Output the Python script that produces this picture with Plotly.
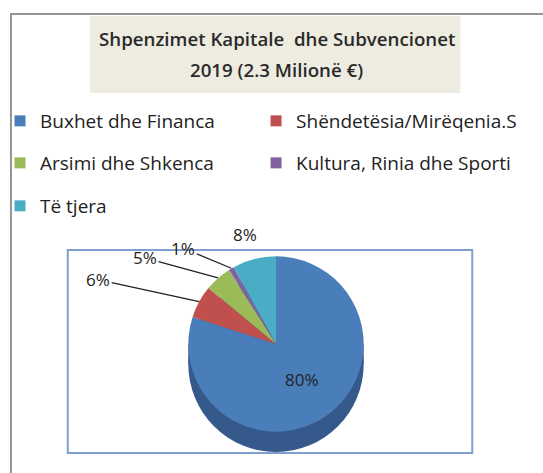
import math
import plotly.graph_objects as go

labels = ["Buxhet dhe Financa", "Shëndetësia/Mirëqenia.S", "Arsimi dhe Shkenca",
          "Kultura, Rinia dhe Sporti", "Të tjera"]
values = [80, 6, 5, 1, 8]
colors = ["#4A7EBB", "#C0504D", "#9BBB59", "#8064A2", "#4BACC6"]
title_lines = ["Shpenzimet Kapitale  dhe Subvencionet", "2019 (2.3 Milionë €)"]

W, H = 543, 473

def px_x(x):
    return x / W

def px_y(y):
    return 1 - y / H

# pie geometry (pixels)
cx, cy, d, depth = 275, 344, 176, 20
r = d / 2

fig = go.Figure()
fig.add_trace(go.Pie(
    labels=labels, values=values, sort=False, direction="clockwise", rotation=0,
    marker=dict(colors=colors, line=dict(width=0)),
    texttemplate=["%{percent:.0%}", "", "", "", ""],
    textposition="inside",
    insidetextfont=dict(color="#222", size=17, family="Open Sans"),
    domain=dict(x=[px_x(cx - r), px_x(cx + r)], y=[px_y(cy + r), px_y(cy - r)]),
    showlegend=False, hoverinfo="label+percent",
))

# legend proxies (one legend box per entry, laid out like the original)
legend_pos = [(38, 121), (295, 121), (38, 163), (295, 163), (38, 206)]
layout_legends = {}
for i, (lab, col) in enumerate(zip(labels, colors)):
    key = "legend" if i == 0 else f"legend{i + 1}"
    fig.add_trace(go.Scatter(
        x=[None], y=[None], mode="markers", name=lab,
        marker=dict(symbol="square", size=11, color=col),
        legend=key, showlegend=True, hoverinfo="skip",
    ))
    lx, ly = legend_pos[i]
    layout_legends[key] = dict(
        x=px_x(lx - 40), y=px_y(ly), xanchor="left", yanchor="middle",
        bgcolor="rgba(0,0,0,0)", borderwidth=0,
        font=dict(family="Open Sans", size=19, color="#222"),
    )

# percentage labels for small slices, with leader lines to slice edges
label_offsets = {1: (-101, -22), 2: (-73, -20), 3: (-48, -20)}
total = sum(values)
cum = 0
annotations = []
for i, v in enumerate(values):
    start = cum
    cum += v
    if i == 0:
        continue
    mid = math.radians((start + v / 2) / total * 360)
    ex = cx + r * math.sin(mid)
    ey = cy - r * math.cos(mid)
    txt = f"{round(v / total * 100)}%"
    if i in label_offsets:
        ax, ay = label_offsets[i]
        annotations.append(dict(
            xref="paper", yref="paper", x=px_x(ex), y=px_y(ey), text=txt,
            showarrow=True, ax=ax, ay=ay, arrowhead=0, arrowwidth=1.3, arrowcolor="#222",
            font=dict(family="Open Sans", size=17, color="#222"), standoff=0,
        ))
    else:
        annotations.append(dict(
            xref="paper", yref="paper", x=px_x(ex), y=px_y(ey), text=txt,
            showarrow=False, xshift=-9, yshift=24,
            font=dict(family="Open Sans", size=17, color="#222"),
        ))

for k, line in enumerate(title_lines):
    annotations.append(dict(
        xref="paper", yref="paper", x=px_x(276), y=px_y(38 + 31 * k), xanchor="center",
        yanchor="middle", text=line, showarrow=False,
        font=dict(family="Open Sans", size=18.7, color="#2a2a2a", weight=600),
    ))

shapes = [
    # outer chart frame
    dict(type="rect", xref="paper", yref="paper", x0=px_x(9), x1=1.05, y0=-0.05, y1=px_y(14),
         line=dict(color="#949494", width=2), fillcolor="rgba(0,0,0,0)", layer="below"),
    # title box
    dict(type="rect", xref="paper", yref="paper", x0=px_x(88), x1=px_x(460), y0=px_y(93), y1=px_y(16),
         line=dict(width=0), fillcolor="#EEECE1", layer="below"),
    # plot area frame
    dict(type="rect", xref="paper", yref="paper", x0=px_x(66), x1=px_x(472), y0=px_y(453), y1=px_y(250),
         line=dict(color="#7E9FD0", width=2), fillcolor="rgba(0,0,0,0)", layer="below"),
    # 3D side of the pie
    dict(type="rect", xref="paper", yref="paper", x0=px_x(cx - r), x1=px_x(cx + r),
         y0=px_y(cy + depth), y1=px_y(cy), line=dict(width=0), fillcolor="#34598A", layer="below"),
    dict(type="circle", xref="paper", yref="paper", x0=px_x(cx - r), x1=px_x(cx + r),
         y0=px_y(cy + r + depth), y1=px_y(cy - r + depth), line=dict(width=0),
         fillcolor="#34598A", layer="below"),
]

fig.update_layout(
    width=W, height=H, margin=dict(l=0, r=0, t=0, b=0),
    paper_bgcolor="white", plot_bgcolor="white",
    xaxis=dict(visible=False), yaxis=dict(visible=False),
    shapes=shapes, annotations=annotations,
    font=dict(family="Open Sans"),
    **layout_legends,
)

fig.write_html("out.html", config={"displayModeBar": False},
               post_script="document.body.style.margin='0';")
